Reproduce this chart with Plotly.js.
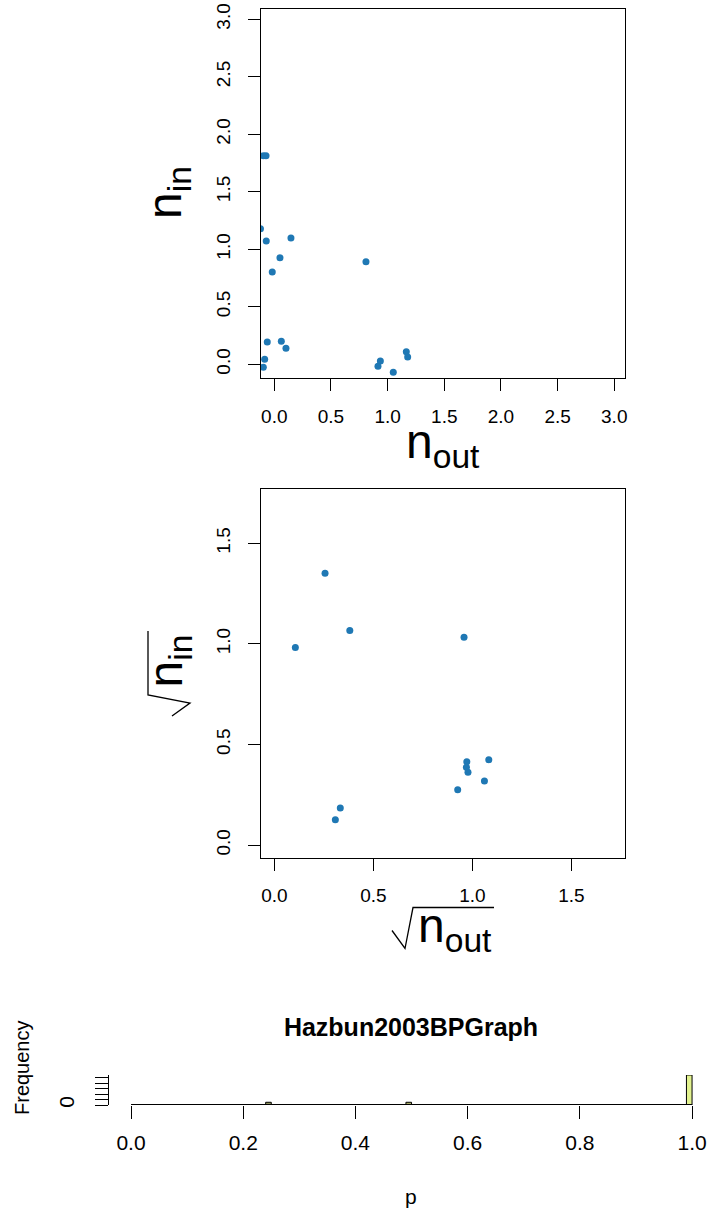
<!DOCTYPE html>
<html>
<head>
<meta charset="utf-8">
<script src="https://cdn.plot.ly/plotly-3.0.1.min.js"></script>
<style>html,body{margin:0;padding:0;background:#fff;}#chart{width:710px;height:1216px;}</style>
</head>
<body>
<div id="chart"></div>
<script>
// ---- data ----
const nOut = [-0.097, -0.073, -0.122, -0.071, 0.147, 0.050, -0.018, 0.809, -0.062, 0.062, 0.103, -0.085, -0.097, 0.936, 0.915, 1.050, 1.165, 1.177];
const nIn  = [ 1.814,  1.814,  1.179,  1.072, 1.098, 0.927,  0.803, 0.892,  0.194, 0.200, 0.139,  0.043, -0.026, 0.029, -0.017, -0.070, 0.110, 0.063];

const sqrtOut = [0.256, 0.381, 0.106, 0.958, 0.972, 0.970, 0.978, 1.083, 1.061, 0.926, 0.333, 0.308];
const sqrtIn  = [1.351, 1.066, 0.982, 1.033, 0.415, 0.387, 0.363, 0.425, 0.319, 0.276, 0.185, 0.127];

const pBins = [0.245, 0.495, 0.995];
const pFreq = [1, 1, 11];
const pColors = ['#8f955a', '#a8ae63', '#e2f28f'];

const tick1 = [0, 0.5, 1, 1.5, 2, 2.5, 3];
const tick1Text = ['0.0', '0.5', '1.0', '1.5', '2.0', '2.5', '3.0'];
const tick2 = [0, 0.5, 1, 1.5];
const tick2Text = ['0.0', '0.5', '1.0', '1.5'];
const tickP = [0, 0.2, 0.4, 0.6, 0.8, 1.0];
const tickPText = ['0.0', '0.2', '0.4', '0.6', '0.8', '1.0'];
const tickF = [0, 2, 4, 6, 8, 10];
const tickFText = ['0', '', '', '', '', ''];

// ---- layout helpers ----
const W = 710, H = 1216;
const FONT = 'Liberation Sans, Arial, Helvetica, sans-serif';
const px = v => v / W;
const py = v => 1 - v / H;
const PT = '#1f78b4';
const pathOf = pts => pts.map((p, i) => (i ? 'L' : 'M') + px(p[0]).toFixed(5) + ',' + py(p[1]).toFixed(5)).join(' ');

const boxAxis = {
  showline: true, mirror: true, linecolor: '#000', linewidth: 1,
  ticks: 'outside', ticklen: 12, tickcolor: '#000', tickwidth: 1,
  showgrid: false, zeroline: false,
  tickfont: {family: FONT, size: 19, color: '#000'}
};

// radical signs (R plotmath draws them as line segments)
const radX = pathOf([[392, 930.5], [405, 948.5], [413, 907.5], [494, 907.5]]);
const radY = pathOf([[172, 716], [190, 703], [148, 695], [148, 631]]);

const traces = [
  {type: 'scatter', mode: 'markers', x: nOut, y: nIn, xaxis: 'x', yaxis: 'y',
   marker: {color: PT, size: 7}, cliponaxis: true, hoverinfo: 'skip'},
  {type: 'scatter', mode: 'markers', x: sqrtOut, y: sqrtIn, xaxis: 'x2', yaxis: 'y2',
   marker: {color: PT, size: 7}, cliponaxis: true, hoverinfo: 'skip'},
  {type: 'bar', x: pBins, y: pFreq, width: 0.01, xaxis: 'x3', yaxis: 'y3',
   marker: {color: pColors, line: {color: '#000', width: 1}}, hoverinfo: 'skip'}
];

const layout = {
  width: W, height: H,
  margin: {l: 0, r: 0, t: 0, b: 0, pad: 0},
  paper_bgcolor: '#fff', plot_bgcolor: '#fff',
  showlegend: false,
  font: {family: FONT, color: '#000'},
  title: {text: '<b>Hazbun2003BPGraph</b>', x: px(411), y: py(1027), xanchor: 'center', yanchor: 'middle',
          xref: 'paper', yref: 'paper', font: {family: FONT, size: 25, color: '#000'}},
  xaxis: Object.assign({}, boxAxis, {domain: [px(260.7), px(625)], range: [-0.120, 3.095], anchor: 'y',
          tickvals: tick1, ticktext: tick1Text, ticklabelstandoff: 9}),
  yaxis: Object.assign({}, boxAxis, {domain: [py(377.7), py(9)], range: [-0.1165, 3.0896], anchor: 'x',
          tickvals: tick1, ticktext: tick1Text, tickangle: -90, ticklabelstandoff: 10}),
  xaxis2: Object.assign({}, boxAxis, {domain: [px(260.7), px(625)], range: [-0.069, 1.771], anchor: 'y2',
          tickvals: tick2, ticktext: tick2Text, ticklabelstandoff: 8}),
  yaxis2: Object.assign({}, boxAxis, {domain: [py(858.3), py(489.3)], range: [-0.065, 1.768], anchor: 'x2',
          tickvals: tick2, ticktext: tick2Text, tickangle: -90, ticklabelstandoff: 10}),
  xaxis3: {domain: [px(108.7), 1], range: [-0.0398, 1.032], anchor: 'y3',
          showline: false, showgrid: false, zeroline: false,
          ticks: 'outside', ticklen: 13, tickcolor: '#000', tickwidth: 1,
          tickvals: tickP, ticktext: tickPText, ticklabelstandoff: 6,
          tickfont: {family: FONT, size: 21, color: '#000'}},
  yaxis3: {domain: [py(1105), py(1075)], range: [0, 11], anchor: 'x3',
          showline: true, linecolor: '#000', linewidth: 1, showgrid: false, zeroline: false,
          ticks: 'outside', ticklen: 13, tickcolor: '#000', tickwidth: 1,
          tickvals: tickF, ticktext: tickFText, tickangle: -90, ticklabelstandoff: 12,
          tickfont: {family: FONT, size: 21, color: '#000'}},
  shapes: [
    // x axis line of the histogram (R draws it from first to last tick)
    {type: 'line', xref: 'x3', yref: 'y3', x0: 0, x1: 1, y0: 0, y1: 0, line: {color: '#000', width: 2}},
    {type: 'path', xref: 'paper', yref: 'paper', path: radX, line: {color: '#000', width: 1.3}},
    {type: 'path', xref: 'paper', yref: 'paper', path: radY, line: {color: '#000', width: 1.3}}
  ],
  annotations: [
    {text: 'n<sub>in</sub>', xref: 'paper', yref: 'paper', x: px(168), y: py(193), textangle: -90,
     showarrow: false, xanchor: 'center', yanchor: 'middle', font: {family: FONT, size: 48, color: '#000'}},
    {text: 'n<sub>out</sub>', xref: 'paper', yref: 'paper', x: px(443), y: py(445),
     showarrow: false, xanchor: 'center', yanchor: 'middle', font: {family: FONT, size: 48, color: '#000'}},
    {text: 'n<sub>in</sub>', xref: 'paper', yref: 'paper', x: px(168), y: py(661.5), textangle: -90,
     showarrow: false, xanchor: 'center', yanchor: 'middle', font: {family: FONT, size: 48, color: '#000'}},
    {text: 'n<sub>out</sub>', xref: 'paper', yref: 'paper', x: px(455), y: py(929),
     showarrow: false, xanchor: 'center', yanchor: 'middle', font: {family: FONT, size: 48, color: '#000'}},
    {text: 'Frequency', xref: 'paper', yref: 'paper', x: px(22), y: py(1068), textangle: -90,
     showarrow: false, xanchor: 'center', yanchor: 'middle', font: {family: FONT, size: 20, color: '#000'}},
    {text: 'p', xref: 'paper', yref: 'paper', x: px(411), y: py(1196),
     showarrow: false, xanchor: 'center', yanchor: 'middle', font: {family: FONT, size: 21, color: '#000'}}
  ]
};

Plotly.newPlot('chart', traces, layout, {staticPlot: true, displayModeBar: false});
</script>
</body>
</html>
